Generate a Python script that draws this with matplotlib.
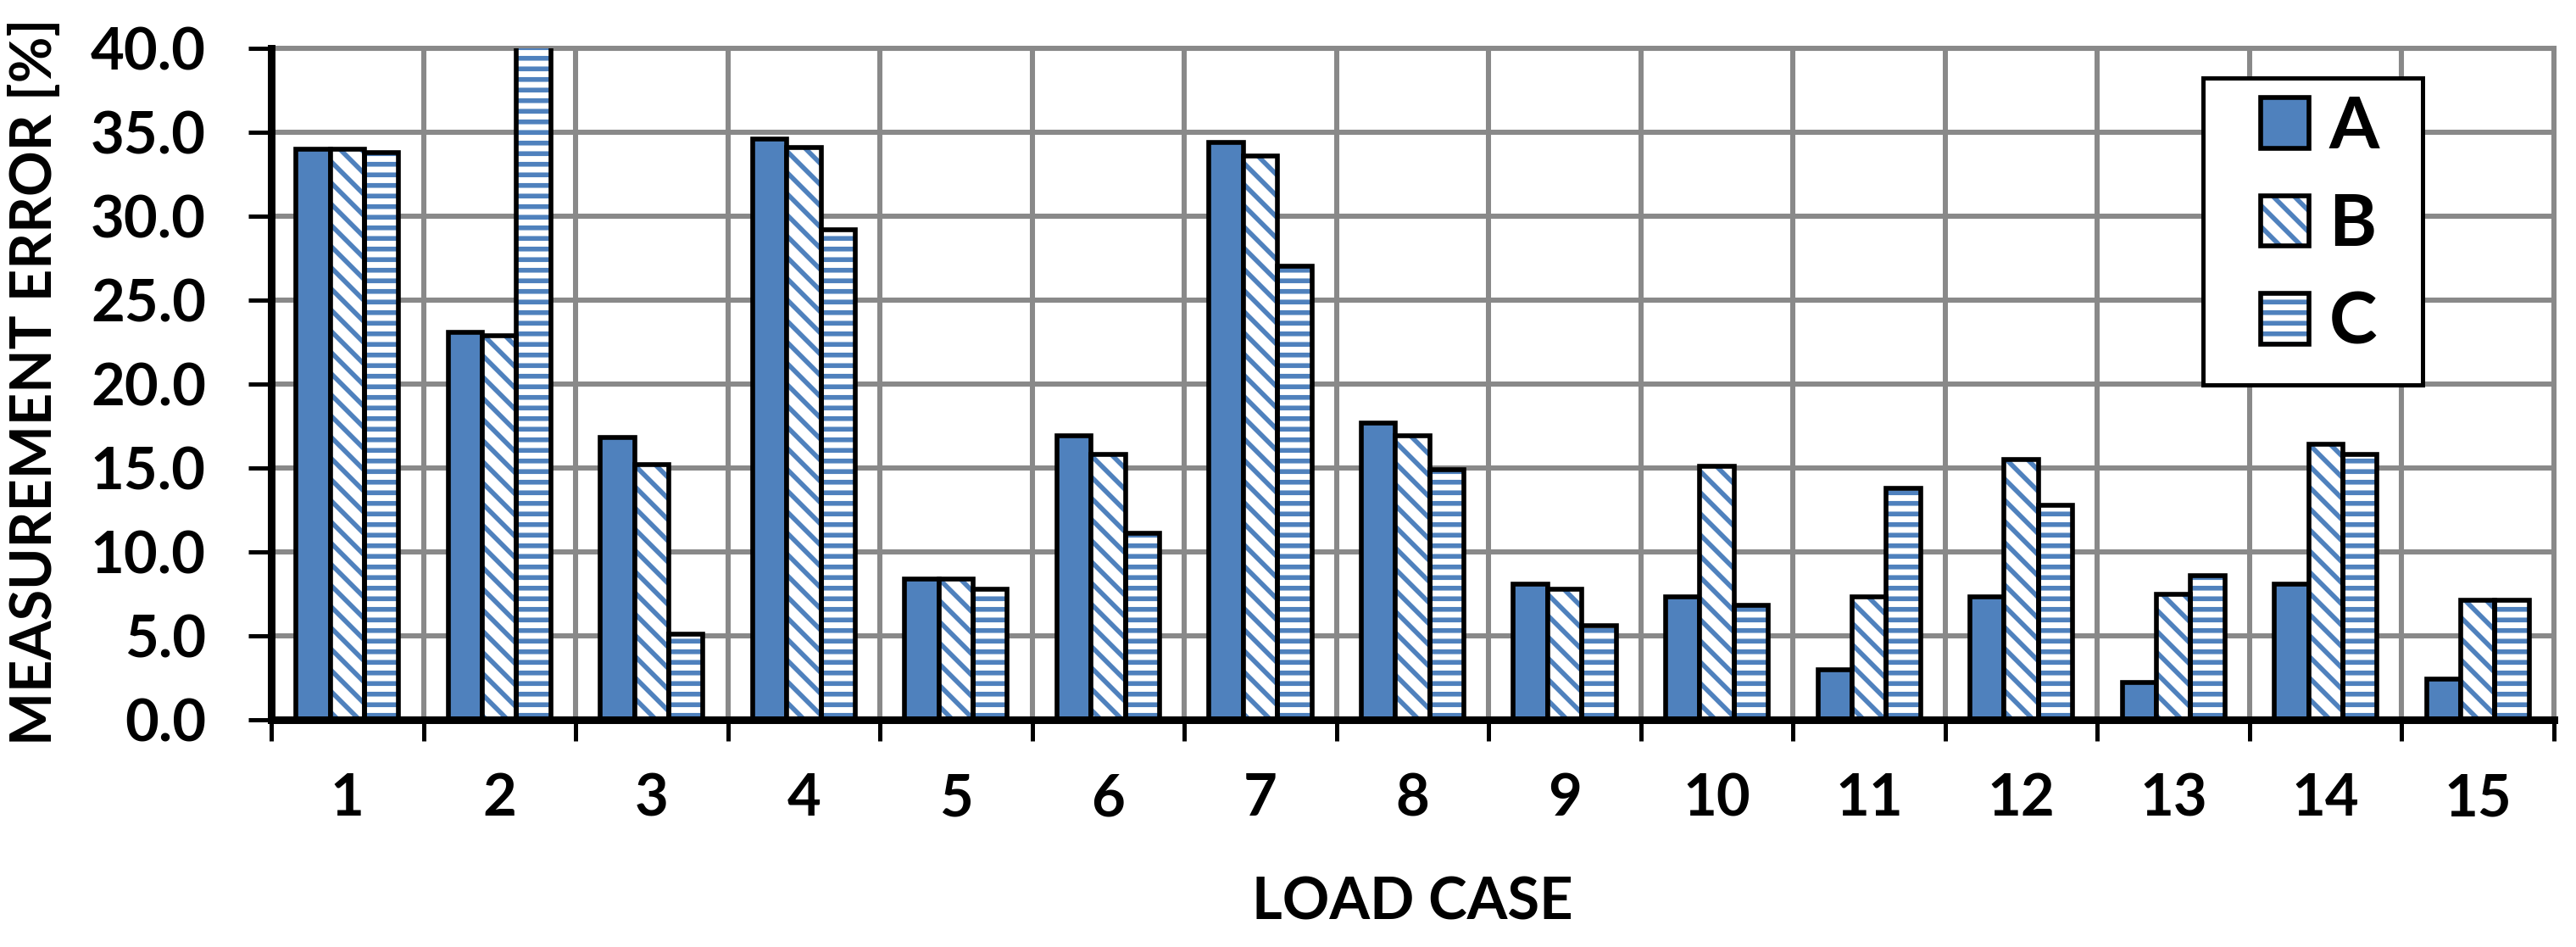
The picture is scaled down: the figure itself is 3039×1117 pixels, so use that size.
import matplotlib
matplotlib.use("Agg")
import matplotlib.pyplot as plt
from matplotlib.patches import Patch, Rectangle
import numpy as np

# ---- data ----
load_cases = ["1", "2", "3", "4", "5", "6", "7", "8", "9", "10", "11", "12", "13", "14", "15"]
series_names = ["A", "B", "C"]
values_a = [34.0, 23.1, 16.8, 34.6, 8.4, 16.9, 34.4, 17.7, 8.1, 7.3, 3.0, 7.3, 2.2, 8.1, 2.4]
values_b = [34.0, 22.9, 15.2, 34.1, 8.4, 15.8, 33.6, 16.9, 7.8, 15.1, 7.3, 15.5, 7.5, 16.4, 7.1]
values_c = [33.8, 41.0, 5.1, 29.2, 7.8, 11.1, 27.0, 14.9, 5.6, 6.8, 13.8, 12.8, 8.6, 15.8, 7.1]
y_ticks = [0, 5, 10, 15, 20, 25, 30, 35, 40]

W, H = 3039, 1117
DPI = 150
BLUE = "#4F81BD"
GRID = "#898989"

plt.rcParams["font.family"] = ["Lato", "DejaVu Sans"]
plt.rcParams["font.weight"] = "bold"
plt.rcParams["hatch.linewidth"] = 2.7

fig = plt.figure(figsize=(W / DPI, H / DPI), dpi=DPI)
left, right, top, bottom = 320 / W, 3013 / W, 1 - 57 / H, 1 - 849 / H
ax = fig.add_axes([left, bottom, right - left, top - bottom])

x = np.arange(1, len(load_cases) + 1)
bw = 0.225
offsets = [-bw, 0, bw]
all_vals = [values_a, values_b, values_c]
hatches = [None, "\\\\", "--"]
edge_lw = 2.7

handles = []
for vals, off, hatch, name in zip(all_vals, offsets, hatches, series_names):
    if hatch is None:
        ax.bar(x + off, vals, width=bw, color=BLUE, edgecolor="black",
               linewidth=edge_lw, zorder=3)
        h = Patch(facecolor=BLUE, edgecolor="black", linewidth=edge_lw)
    else:
        ax.bar(x + off, vals, width=bw, facecolor="white", edgecolor=BLUE,
               hatch=hatch, linewidth=0, zorder=3)
        h_fill = Patch(facecolor="white", edgecolor=BLUE, hatch=hatch, linewidth=0)
        ax.bar(x + off, vals, width=bw, fill=False, edgecolor="black",
               linewidth=edge_lw, zorder=4)
        h_out = Patch(fill=False, edgecolor="black", linewidth=edge_lw)
        h = (h_fill, h_out)
    handles.append(h)

ax.set_xlim(0.5, len(load_cases) + 0.5)
ax.set_ylim(0, 40)

# ticks
ax.set_yticks(y_ticks)
ax.set_yticklabels([f"{v:.1f}" for v in y_ticks])
ax.set_xticks(np.arange(0.5, len(load_cases) + 1.0, 1.0))
ax.set_xticklabels([])
ax.set_xticks(x, load_cases, minor=True)
ax.tick_params(axis="x", which="major", direction="out", length=12, width=2.4, color="black")
ax.tick_params(axis="x", which="minor", length=0, pad=30, labelsize=33)
ax.tick_params(axis="y", which="major", direction="out", length=13, width=2.4,
               color="black", pad=24, labelsize=33)
for lab in ax.get_xticklabels(minor=True) + ax.get_yticklabels():
    lab.set_fontweight("bold")

ax.grid(True, which="major", color=GRID, linewidth=2.9)
ax.set_axisbelow(True)

for s in ["left", "bottom"]:
    ax.spines[s].set_color("black")
    ax.spines[s].set_linewidth(4.3)
    ax.spines[s].set_zorder(5)
for s in ["top", "right"]:
    ax.spines[s].set_color(GRID)
    ax.spines[s].set_linewidth(2.9)

# axis labels
fig.text(42 / W, 1 - 450 / H, "MEASUREMENT ERROR [%]", rotation=90,
         ha="center", va="center", fontsize=32, fontweight="bold")
fig.text(1666 / W, 1 - 1065 / H, "LOAD CASE", ha="center", va="center",
         fontsize=33, fontweight="bold")

# legend frame + legend
frame = Rectangle((2599 / W, 1 - 454 / H), (2858 - 2599) / W, (454 - 92) / H,
                  transform=fig.transFigure, facecolor="white", edgecolor="black",
                  linewidth=2.4, zorder=6)
fig.add_artist(frame)
leg = fig.legend(handles, series_names, loc="upper left",
                 bbox_to_anchor=(2667 / W, 1 - 112 / H), frameon=False,
                 handlelength=0.67, handleheight=0.69,
                 handletextpad=0.27, labelspacing=0.45, borderpad=0,
                 borderaxespad=0, prop={"weight": "bold", "size": 41})
leg.set_zorder(7)

fig.savefig("out.png", dpi=DPI)
